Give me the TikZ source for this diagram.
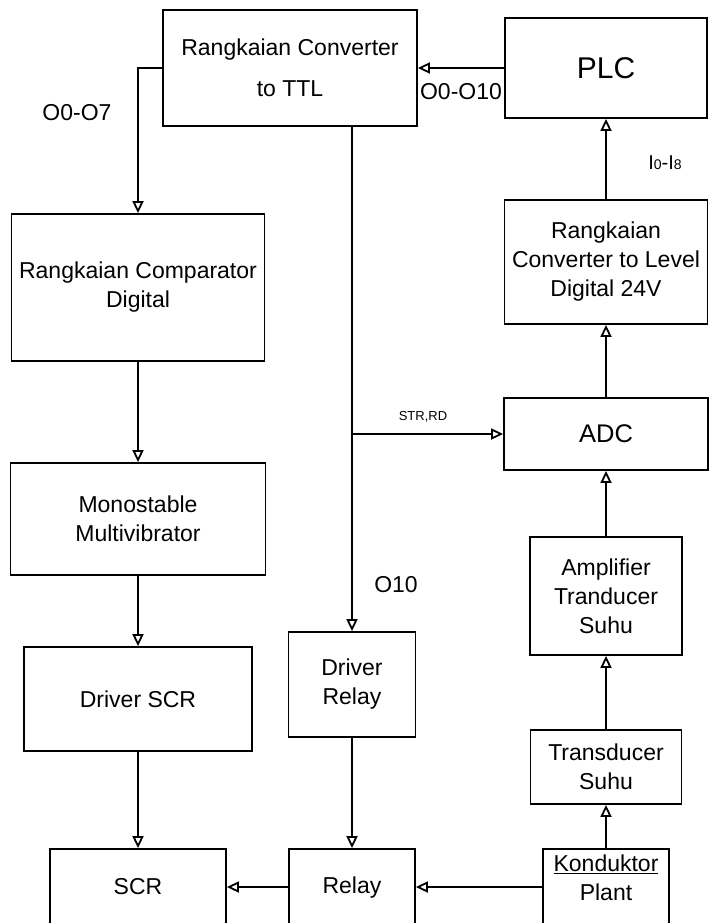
\documentclass[tikz,border=0pt]{standalone}
\usepackage{fontspec}
\setmainfont{Liberation Sans}
\usetikzlibrary{arrows.meta,positioning}
\newcommand{\lowdig}[1]{{\fontsize{14}{14}\selectfont #1}}
\tikzset{
  box/.style={draw, line width=1.8pt, align=center, inner sep=0pt, font=\fontsize{23}{29}\selectfont},
  arrow/.style={-{Triangle[open,length=12pt,width=11pt,line width=1.8pt]}, line width=1.8pt},
  wire/.style={line width=1.8pt},
  sig/.style={inner sep=0pt, font=\fontsize{23}{28}\selectfont}
}

\begin{document}
\begin{tikzpicture}[x=1pt,y=-1pt]
  \useasboundingbox (0,0) rectangle (710,923);
  \clip (0,0) rectangle (710,923);
  % top row
  \node[box, minimum width=254pt, minimum height=116pt] (ttl) at (290,68) {Rangkaian Converter\\[12pt]to TTL};
  \node[box, minimum width=202pt, minimum height=100pt, font=\fontsize{30}{34}\selectfont] (plc) at (606,68) {PLC};
  % left column
  \node[box, minimum width=253pt, minimum height=147pt] (comp) at (138,287.5) {Rangkaian Comparator\\Digital};
  \node[box, minimum width=255pt, minimum height=112pt] (mono) at (138,519) {Monostable\\Multivibrator};
  \node[box, minimum width=228pt, minimum height=104pt] (dscr) at (138,699) {Driver SCR};
  \node[box, minimum width=176pt, minimum height=76pt] (scr) at (138,887) {SCR};
  % middle column
  \node[box, minimum width=127pt, minimum height=105pt] (drelay) at (352,684.5) {Driver\\Relay};
  \node[box, minimum width=126pt, minimum height=76pt, text height=17pt, text depth=5pt] (relay) at (352,887) {Relay};
  % right column
  \node[box, minimum width=203pt, minimum height=124pt] (level) at (606,262) {Rangkaian\\Converter to Level\\Digital 24V};
  \node[box, minimum width=204pt, minimum height=72pt, font=\fontsize{25.5}{30}\selectfont] (adc) at (606,434) {ADC};
  \node[box, minimum width=152pt, minimum height=118pt] (amp) at (606,596) {Amplifier\\Tranducer\\Suhu};
  \node[box, minimum width=151pt, minimum height=74pt] (trans) at (606,767) {Transducer\\Suhu};
  \node[box, minimum width=126pt, minimum height=76pt, text depth=18pt] (kond) at (606,887) {\underline{Konduktor}\\Plant};

  % signal labels
  \node[sig] (o10lbl) at (461,92) {O0-O10};
  \node[sig] (o7lbl) at (77,113) {O0-O7};
  \node[sig, font=\fontsize{20}{24}\selectfont] (ilbl) at (665,163) {I\lowdig{0}-I\lowdig{8}};
  \node[sig] (olbl) at (396,585) {O10};
  \node[sig, font=\fontsize{13}{15}\selectfont] (strlbl) at (423,417) {STR,RD};

  % connectors
  \draw[arrow] (plc) -- (ttl);
  \draw[arrow] (ttl.west) -| (comp.north);
  \draw[arrow] (comp) -- (mono);
  \draw[arrow] (mono) -- (dscr);
  \draw[arrow] (dscr) -- (scr);
  \draw[arrow] (drelay.north |- ttl.south) -- (drelay);
  \coordinate (tap) at (drelay.north |- adc.west);
  \draw[arrow] (tap) -- (adc);
  \draw[arrow] (drelay) -- (relay);
  \draw[arrow] (relay) -- (scr);
  \draw[arrow] (kond) -- (relay);
  \draw[arrow] (kond) -- (trans);
  \draw[arrow] (trans) -- (amp);
  \draw[arrow] (amp) -- (adc);
  \draw[arrow] (adc) -- (level);
  \draw[arrow] (level) -- (plc);
\end{tikzpicture}
\end{document}
